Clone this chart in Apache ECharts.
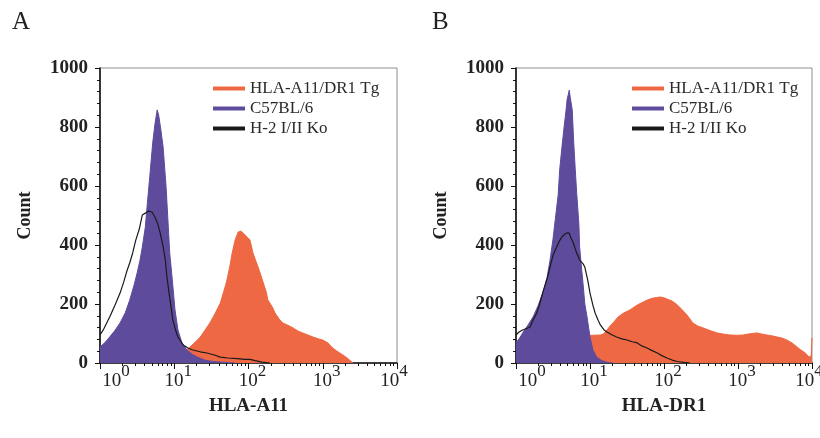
<!DOCTYPE html>
<html>
<head>
<meta charset="utf-8">
<script src="https://cdn.jsdelivr.net/npm/echarts@6/dist/echarts.min.js"></script>
<style>
  html, body { margin: 0; padding: 0; background: #fff; }
  #chart { width: 820px; height: 438px; }
</style>
</head>
<body>
<div id="chart"></div>
<script>
// Flow cytometry histograms. Fluorescence is given in decades (log10 of intensity),
// counts are events per channel.
const seriesNames = ['HLA-A11/DR1 Tg', 'C57BL/6', 'H-2 I/II Ko'];
const decadeTicks = [0, 1, 2, 3, 4];
const countTicks = [0, 200, 400, 600, 800, 1000];

// Panel A: HLA-A11 staining
const a11TgLog = [0.88, 0.97, 1.08, 1.14, 1.21, 1.28, 1.35, 1.41, 1.48, 1.55, 1.62, 1.67, 1.71, 1.75, 1.78, 1.82, 1.86, 1.90, 1.93, 1.95, 1.99, 2.02, 2.06, 2.10, 2.13, 2.17, 2.20, 2.24, 2.26, 2.32, 2.36, 2.41, 2.46, 2.53, 2.60, 2.67, 2.73, 2.80, 2.87, 2.94, 3.00, 3.07, 3.12, 3.18, 3.23, 3.29, 3.33, 3.37, 3.41];
const a11TgCount = [0, 10, 25, 38, 54, 70, 88, 110, 136, 168, 203, 245, 281, 330, 373, 417, 444, 447, 440, 434, 425, 417, 373, 345, 325, 295, 271, 240, 214, 190, 169, 150, 136, 128, 119, 108, 102, 95, 88, 82, 78, 68, 54, 42, 34, 24, 17, 8, 0];

const a11B6Log = [0.00, 0.07, 0.13, 0.20, 0.27, 0.34, 0.40, 0.46, 0.50, 0.54, 0.57, 0.61, 0.63, 0.67, 0.71, 0.74, 0.77, 0.79, 0.82, 0.85, 0.89, 0.92, 0.94, 0.97, 1.01, 1.05, 1.10, 1.17, 1.24, 1.31, 1.41, 1.52, 1.68, 1.82];
const a11B6Count = [54, 70, 88, 110, 136, 170, 213, 265, 305, 350, 393, 460, 519, 631, 746, 810, 858, 840, 790, 732, 597, 461, 370, 292, 180, 112, 71, 44, 30, 20, 10, 5, 2, 0];

const a11KoLog = [0.00, 0.05, 0.13, 0.20, 0.27, 0.32, 0.36, 0.40, 0.44, 0.48, 0.53, 0.57, 0.61, 0.65, 0.67, 0.70, 0.74, 0.78, 0.81, 0.85, 0.88, 0.90, 0.93, 0.96, 0.98, 1.02, 1.05, 1.12, 1.19, 1.25, 1.35, 1.44, 1.54, 1.62, 1.72, 1.85, 1.95, 2.02, 2.09, 2.18, 2.29];
const a11KoCount = [95, 115, 156, 195, 237, 275, 310, 339, 373, 415, 455, 502, 508, 515, 519, 512, 495, 470, 441, 395, 349, 295, 237, 185, 146, 110, 88, 61, 50, 44, 38, 34, 27, 20, 17, 15, 12, 12, 8, 3, 0];

// Panel B: HLA-DR1 staining
const dr1TgLog = [0.59, 0.73, 0.86, 1.03, 1.14, 1.18, 1.23, 1.27, 1.31, 1.38, 1.45, 1.54, 1.64, 1.72, 1.78, 1.85, 1.91, 1.95, 2.00, 2.04, 2.11, 2.18, 2.24, 2.31, 2.39, 2.46, 2.53, 2.62, 2.72, 2.80, 2.89, 2.99, 3.07, 3.16, 3.26, 3.32, 3.39, 3.46, 3.53, 3.59, 3.66, 3.73, 3.80, 3.85, 3.91, 3.96, 3.99, 4.00];
const dr1TgCount = [0, 70, 90, 94, 95, 98, 112, 125, 136, 156, 169, 180, 197, 207, 214, 220, 222, 224, 221, 217, 210, 197, 182, 163, 136, 125, 119, 110, 102, 98, 95, 94, 95, 99, 102, 98, 95, 92, 88, 85, 78, 68, 54, 44, 34, 20, 25, 85];

const dr1B6Log = [0.00, 0.05, 0.09, 0.16, 0.23, 0.30, 0.36, 0.42, 0.46, 0.50, 0.53, 0.57, 0.59, 0.62, 0.65, 0.68, 0.69, 0.72, 0.73, 0.76, 0.78, 0.80, 0.82, 0.85, 0.86, 0.89, 0.91, 0.93, 0.96, 1.00, 1.04, 1.09, 1.16, 1.24, 1.30];
const dr1B6Count = [68, 85, 102, 128, 156, 195, 237, 290, 349, 420, 485, 570, 654, 730, 800, 865, 892, 925, 905, 858, 746, 660, 576, 470, 393, 310, 258, 200, 156, 88, 44, 20, 8, 2, 0];

const dr1KoLog = [0.00, 0.04, 0.09, 0.15, 0.19, 0.23, 0.28, 0.32, 0.36, 0.42, 0.46, 0.50, 0.55, 0.59, 0.62, 0.66, 0.69, 0.72, 0.74, 0.77, 0.81, 0.86, 0.91, 0.93, 0.97, 1.00, 1.04, 1.07, 1.11, 1.14, 1.19, 1.23, 1.30, 1.36, 1.43, 1.50, 1.57, 1.64, 1.70, 1.77, 1.84, 1.91, 1.97, 2.04, 2.11, 2.18, 2.27, 2.35];
const dr1KoCount = [95, 105, 112, 118, 122, 146, 169, 200, 237, 285, 325, 365, 393, 415, 427, 437, 441, 440, 425, 410, 380, 349, 335, 325, 280, 237, 195, 169, 145, 129, 112, 105, 95, 88, 82, 78, 72, 68, 58, 51, 42, 34, 25, 17, 10, 5, 2, 0];

const SERIF = '"Liberation Serif", "DejaVu Serif", serif';
const TG_COLOR = '#EE6843';
const B6_COLOR = '#5E4B9C';
const KO_COLOR = '#1a1a1a';

const pairs = (xs, ys) => xs.map((x, i) => [x, ys[i]]);

// minor ticks at 2..9 inside each decade
const logMinorTicks = [];
for (let d = 0; d < 4; d++) {
  for (let k = 2; k <= 9; k++) logMinorTicks.push(d + Math.log10(k));
}

function decadeLabel(v) {
  const e = Math.round(v);
  if (e === decadeTicks[0]) return '{padL|}{base|10}{sup|' + e + '}{tall|}';
  if (e === decadeTicks[decadeTicks.length - 1]) return '{base|10}{sup|' + e + '}{padR|}{tall|}';
  return '{pad|}{base|10}{sup|' + e + '}{tall|}';
}

const decadeRich = {
  base: { fontFamily: SERIF, fontSize: 19, color: '#222', verticalAlign: 'bottom' },
  sup: { fontFamily: SERIF, fontSize: 17, color: '#222', verticalAlign: 'top' },
  pad: { width: 8 },
  padL: { width: 32 },
  padR: { width: 6 },
  tall: { width: 0, lineHeight: 28 }
};

function makeXAxes(gridIndex, title) {
  return [
    {
      gridIndex, type: 'value', min: 0, max: 4, interval: 1,
      name: title, nameLocation: 'middle', nameGap: 34,
      nameTextStyle: { fontFamily: SERIF, fontSize: 19, fontWeight: 'bold', color: '#222' },
      axisLine: { show: true, onZero: false, lineStyle: { color: '#111', width: 1.5 } },
      axisTick: { show: true, inside: false, length: 6, lineStyle: { color: '#111', width: 1 } },
      axisLabel: { show: true, margin: 0, formatter: decadeLabel, rich: decadeRich },
      splitLine: { show: false }
    },
    {
      gridIndex, type: 'value', min: 0, max: 4, position: 'bottom', offset: 0,
      axisLine: { show: false },
      axisTick: { show: true, inside: false, length: 3, customValues: logMinorTicks, lineStyle: { color: '#111', width: 1 } },
      axisLabel: { show: false },
      splitLine: { show: false }
    }
  ];
}

function makeYAxis(gridIndex) {
  return {
    gridIndex, type: 'value', min: countTicks[0], max: countTicks[countTicks.length - 1], interval: 200,
    name: 'Count', nameLocation: 'middle', nameRotate: 90, nameGap: 66,
    nameTextStyle: { fontFamily: SERIF, fontSize: 18, fontWeight: 'bold', color: '#222' },
    axisLine: { show: true, lineStyle: { color: '#111', width: 1.6 } },
    axisTick: { show: true, inside: false, length: 5, lineStyle: { color: '#111', width: 1 } },
    minorTick: { show: true, splitNumber: 5, length: 3, lineStyle: { color: '#111', width: 1 } },
    axisLabel: {
      margin: 12, fontFamily: SERIF, fontSize: 19, fontWeight: 'bold', color: '#222',
      formatter: (v) => String(v)
    },
    splitLine: { show: false }
  };
}

// z keeps the stacking order: Tg fill at the back, C57BL/6 fill over it, Ko outline on top
function histSeries(name, xAxisIndex, yAxisIndex, data, color, filled, z) {
  const s = {
    name, type: 'line', xAxisIndex, yAxisIndex, data, z,
    showSymbol: false, symbol: 'none', smooth: false, animation: false,
    itemStyle: { color },
    lineStyle: { color, width: filled ? 1 : 1.2 }
  };
  if (filled) s.areaStyle = { color, opacity: 1 };
  return s;
}

function makeLegend(left) {
  return {
    data: seriesNames, orient: 'vertical', left, top: 80, padding: 0,
    icon: 'rect', itemWidth: 32, itemHeight: 4, itemGap: 3,
    selectedMode: false,
    textStyle: { fontFamily: SERIF, fontSize: 17, lineHeight: 17, color: '#2a2a2a' }
  };
}

const gridStyle = {
  show: true, borderColor: '#8f8f8f', borderWidth: 1, backgroundColor: 'transparent',
  outerBoundsMode: 'none', containLabel: false
};

const chart = echarts.init(document.getElementById('chart'), null, { renderer: 'canvas' });
chart.setOption({
  backgroundColor: '#fff',
  animation: false,
  title: [
    { text: 'A', left: 12, top: 10, padding: 0, textStyle: { fontFamily: SERIF, fontSize: 25, fontWeight: 'normal', color: '#222' } },
    { text: 'B', left: 432, top: 10, padding: 0, textStyle: { fontFamily: SERIF, fontSize: 25, fontWeight: 'normal', color: '#222' } }
  ],
  legend: [makeLegend(213), makeLegend(632)],
  grid: [
    Object.assign({ left: 100, right: 423, top: 68, bottom: 75 }, gridStyle),
    Object.assign({ left: 516, right: 8, top: 68, bottom: 75 }, gridStyle)
  ],
  xAxis: [...makeXAxes(0, 'HLA-A11'), ...makeXAxes(1, 'HLA-DR1')],
  yAxis: [makeYAxis(0), makeYAxis(1)],
  series: [
    histSeries(seriesNames[0], 0, 0, pairs(a11TgLog, a11TgCount), TG_COLOR, true, 2),
    histSeries(seriesNames[1], 0, 0, pairs(a11B6Log, a11B6Count), B6_COLOR, true, 3),
    histSeries(seriesNames[2], 0, 0, pairs(a11KoLog, a11KoCount), KO_COLOR, false, 4),
    histSeries(seriesNames[0], 2, 1, pairs(dr1TgLog, dr1TgCount), TG_COLOR, true, 2),
    histSeries(seriesNames[1], 2, 1, pairs(dr1B6Log, dr1B6Count), B6_COLOR, true, 3),
    histSeries(seriesNames[2], 2, 1, pairs(dr1KoLog, dr1KoCount), KO_COLOR, false, 4)
  ]
});
</script>
</body>
</html>
